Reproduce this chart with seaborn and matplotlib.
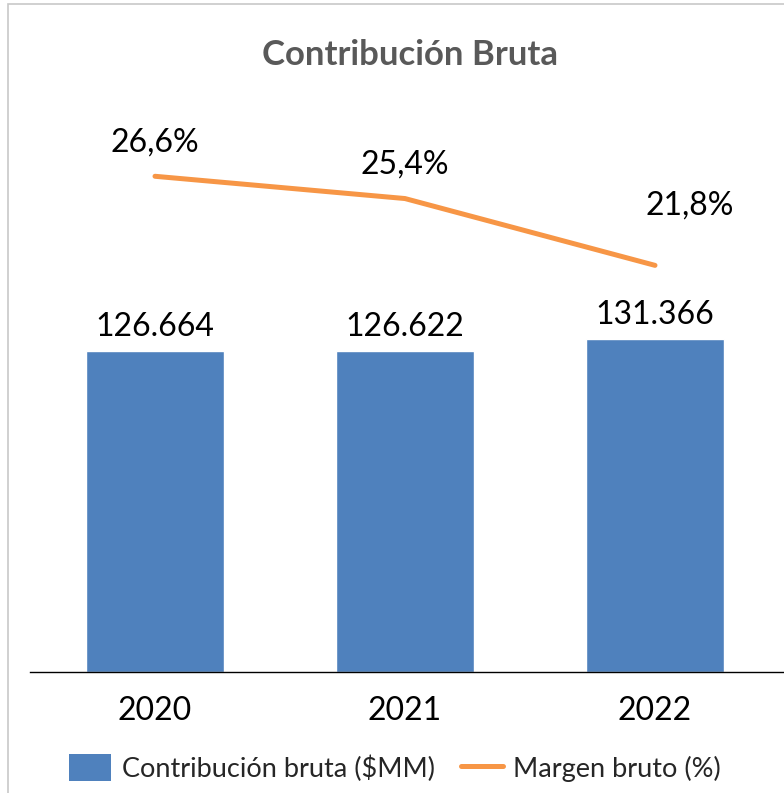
import matplotlib
matplotlib.use("Agg")
import matplotlib.pyplot as plt
import seaborn as sns
import numpy as np
from matplotlib.patches import Patch, Rectangle
from matplotlib.lines import Line2D

sns.set_theme(style="white")
plt.rcParams['font.family'] = ['Lato', 'DejaVu Sans']

# data
years = ["2020", "2021", "2022"]
contribucion = [126664, 126622, 131366]   # $MM
margen = [26.6, 25.4, 21.8]               # %

bar_color = "#4F81BD"
line_color = "#F79646"

fig = plt.figure(figsize=(7.84, 7.93), dpi=100)
W, H = 784, 793
# plot area in pixels: x 30..784, y 100..672
ax = fig.add_axes([30 / W, 1 - 672 / H, 754 / W, 572 / H])

sns.barplot(x=years, y=contribucion, color=bar_color, saturation=1,
            width=0.552, ax=ax)
ax.set_xlim(-0.5, 2.516)
ax.set_ylim(0, 225700)

ax2 = ax.twinx()
sns.lineplot(x=np.arange(len(years)), y=margen, color=line_color,
             linewidth=3.6, ax=ax2, solid_capstyle="round")
ax2.set_ylim(-0.11, 30.71)

for a in (ax, ax2):
    for s in ["top", "right", "left"]:
        a.spines[s].set_visible(False)
    a.set_ylabel("")
    a.set_yticks([])
ax2.spines["bottom"].set_visible(False)
ax.spines["bottom"].set_color("black")
ax.spines["bottom"].set_linewidth(1.0)
ax.set_xlabel("")
ax.tick_params(axis="x", length=0, pad=17, labelsize=23, labelcolor="black")

# bar labels
for i, v in enumerate(contribucion):
    ax.annotate(f"{v:,}".replace(",", "."), (i, v), xytext=(0, 24),
                textcoords="offset pixels", ha="center", va="center",
                fontsize=23, color="black")

# line labels
label_offsets = [(0, 34), (0, 34), (35, 60)]
for i, (v, off) in enumerate(zip(margen, label_offsets)):
    ax2.annotate(f"{v:.1f}%".replace(".", ","), (i, v), xytext=off,
                 textcoords="offset pixels", ha="center", va="center",
                 fontsize=23, color="black")

fig.text(410 / W, 1 - 55 / H, "Contribución Bruta", ha="center", va="center",
         fontsize=25, fontweight="bold", color="#595959")

handles = [Patch(facecolor=bar_color, edgecolor="none"),
           Line2D([0], [0], color=line_color, lw=3.6, solid_capstyle="round")]
fig.legend(handles, ["Contribución bruta ($MM)", "Margen bruto (%)"],
           loc="center", bbox_to_anchor=(395 / W, 1 - 768 / H), ncol=2,
           frameon=False, fontsize=19.5, handlelength=1.55, handleheight=1.18,
           handletextpad=0.4, columnspacing=0.96, borderpad=0, borderaxespad=0)

# light frame (only left/top visible)
fig.patches.append(Rectangle((8 / W, -0.5), 1.5, 1.5 - 4 / H, fill=False,
                             edgecolor="#C8C8C8", linewidth=1.2,
                             transform=fig.transFigure, figure=fig))

fig.savefig("out.png", dpi=100)
